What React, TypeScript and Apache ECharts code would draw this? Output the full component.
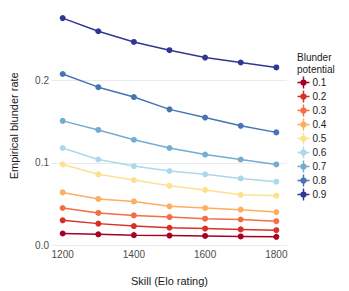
import React, { useEffect, useRef } from "react";
import * as echarts from "echarts";

const skill = [1200, 1300, 1400, 1500, 1600, 1700, 1800];
const potentials = ["0.1", "0.2", "0.3", "0.4", "0.5", "0.6", "0.7", "0.8", "0.9"];
const colors = ["#a50026", "#d73027", "#f46d43", "#fdae61", "#fee090", "#abd9e9", "#74add1", "#4575b4", "#313695"];

const rate01 = [0.014, 0.013, 0.012, 0.0115, 0.011, 0.0104, 0.010];
const rate02 = [0.030, 0.026, 0.023, 0.021, 0.020, 0.019, 0.018];
const rate03 = [0.045, 0.039, 0.036, 0.034, 0.032, 0.031, 0.029];
const rate04 = [0.064, 0.056, 0.053, 0.047, 0.045, 0.043, 0.040];
const rate05 = [0.098, 0.086, 0.079, 0.072, 0.067, 0.061, 0.060];
const rate06 = [0.118, 0.104, 0.096, 0.090, 0.086, 0.081, 0.077];
const rate07 = [0.151, 0.140, 0.128, 0.118, 0.110, 0.104, 0.098];
const rate08 = [0.208, 0.192, 0.180, 0.165, 0.155, 0.145, 0.137];
const rate09 = [0.276, 0.260, 0.247, 0.237, 0.228, 0.222, 0.216];
const rates = [rate01, rate02, rate03, rate04, rate05, rate06, rate07, rate08, rate09];

const xTicks = [1200, 1400, 1600, 1800];

const legendIcon =
  "path://M0,4.4H10V5.6H0Z M4.4,0H5.6V10H4.4Z M5,2.4A2.6,2.6,0,1,1,5,7.6A2.6,2.6,0,1,1,5,2.4Z";

export default function App() {
  const ref = useRef<HTMLDivElement>(null);
  useEffect(() => {
    if (!ref.current) return;
    const chart = echarts.init(ref.current, null, { renderer: "svg" });
    const font = "Liberation Sans, Arial, Helvetica, sans-serif";
    chart.setOption({
      animation: false,
      textStyle: { fontFamily: font },
      grid: { left: 47, right: 62, top: 6.6, bottom: 43.7, containLabel: false },
      xAxis: {
        type: "value",
        min: 1170,
        max: 1830,
        name: "Skill (Elo rating)",
        nameLocation: "middle",
        nameGap: 30,
        nameTextStyle: { fontSize: 11, color: "#1a1a1a", fontFamily: font },
        axisLine: { show: false },
        axisTick: { show: false },
        splitLine: { show: false },
        axisLabel: {
          customValues: xTicks,
          fontSize: 10,
          color: "#4d4d4d",
          margin: 4,
          fontFamily: font,
          formatter: (v: number) => String(v),
        },
      },
      yAxis: {
        type: "value",
        min: 0,
        max: 0.29,
        interval: 0.1,
        name: "Empirical blunder rate",
        nameLocation: "middle",
        nameGap: 33,
        nameRotate: 90,
        nameTextStyle: { fontSize: 11, color: "#1a1a1a", fontFamily: font },
        axisLine: { show: false },
        axisTick: { show: false },
        splitLine: { show: true, showMaxLine: false, lineStyle: { color: "#ebebeb", width: 1 } },
        axisLabel: {
          showMaxLabel: false,
          fontSize: 10,
          color: "#4d4d4d",
          margin: 3,
          fontFamily: font,
          formatter: (v: number) => (Math.abs(v * 10 - Math.round(v * 10)) < 1e-6 ? v.toFixed(1) : ""),
        },
      },
      legend: {
        orient: "vertical",
        left: 292.5,
        top: 71.5,
        itemWidth: 12,
        itemHeight: 12,
        itemGap: 2,
        icon: legendIcon,
        textStyle: { fontSize: 10, color: "#1a1a1a", fontFamily: font, padding: [0, 0, 0, -2] },
        data: potentials,
      },
      graphic: [
        {
          type: "text",
          left: 297,
          top: 52,
          style: {
            text: "Blunder\npotential",
            fontSize: 10,
            lineHeight: 11.5,
            fill: "#1a1a1a",
            fontFamily: font,
          },
        },
      ],
      series: potentials.map((p, i) => ({
        name: p,
        type: "line",
        data: skill.map((s, j) => [s, rates[i][j]]),
        symbol: "circle",
        symbolSize: 6,
        color: colors[i],
        lineStyle: { width: 1.5, color: colors[i] },
        itemStyle: { color: colors[i] },
      })),
    });
    return () => chart.dispose();
  }, []);
  return <div ref={ref} style={{ width: 349, height: 291, position: "absolute", left: 0, top: 0 }} />;
}
